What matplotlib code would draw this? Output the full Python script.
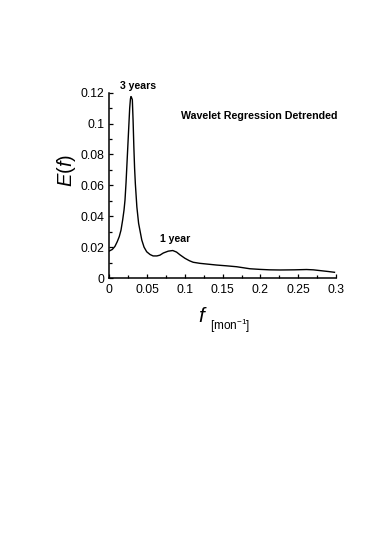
import numpy as np
import matplotlib
matplotlib.use('Agg')
import matplotlib.pyplot as plt
from matplotlib.ticker import MultipleLocator

# spectrum (frequency in mon^-1, energy)
freq = [0.000, 0.004, 0.0075, 0.0105, 0.0132, 0.0155, 0.0177, 0.0195, 0.0208,
        0.0222, 0.0235, 0.025, 0.026, 0.027, 0.028, 0.0287, 0.0295, 0.0305,
        0.0315, 0.0325, 0.0335, 0.0345, 0.0365, 0.0388, 0.043, 0.046, 0.0495,
        0.054, 0.058, 0.063, 0.067, 0.0715, 0.078, 0.084, 0.089, 0.0936, 0.100,
        0.106, 0.111, 0.120, 0.130, 0.142, 0.155, 0.1686, 0.178, 0.186,
        0.199, 0.212, 0.226, 0.245, 0.261, 0.270, 0.279, 0.290, 0.298]
energy = [0.0175, 0.0185, 0.0205, 0.0235, 0.0268, 0.031, 0.0376, 0.044, 0.0505,
          0.062, 0.075, 0.090, 0.100, 0.110, 0.116, 0.1175, 0.1168, 0.1155,
          0.102, 0.085, 0.071, 0.061, 0.046, 0.0354, 0.0246, 0.020, 0.017,
          0.0152, 0.0143, 0.0143, 0.0148, 0.0162, 0.0174, 0.0178, 0.0168, 0.0150,
          0.0128, 0.0112, 0.0102, 0.0095, 0.0090, 0.0084, 0.0079, 0.0073, 0.0066,
          0.0060, 0.0056, 0.0053, 0.0052, 0.0053, 0.0055, 0.0053, 0.0048, 0.0042,
          0.0037]

peak_labels = ['3 years', '1 year']
peak_pos = [(0.038, 0.1243), (0.087, 0.0253)]
title = 'Wavelet Regression Detrended'

plt.rcParams['font.family'] = ['Liberation Sans', 'DejaVu Sans']
plt.rcParams['mathtext.fontset'] = 'custom'
plt.rcParams['mathtext.it'] = 'Liberation Sans:italic'
plt.rcParams['mathtext.rm'] = 'Liberation Sans'

fig = plt.figure(figsize=(3.74, 5.39), dpi=100)
ax = fig.add_axes([0.2922, 0.4842, 0.6062, 0.3438])

ax.plot(freq, energy, color='black', lw=1.0)

ax.set_xlim(0, 0.3)
ax.set_ylim(0, 0.12)
ax.xaxis.set_minor_locator(MultipleLocator(0.025))
ax.yaxis.set_minor_locator(MultipleLocator(0.01))
ax.set_xticks([0, 0.05, 0.1, 0.15, 0.2, 0.25, 0.3])
ax.set_xticklabels(['0', '0.05', '0.1', '0.15', '0.2', '0.25', '0.3'])
ax.set_yticks([0, 0.02, 0.04, 0.06, 0.08, 0.1, 0.12])
ax.set_yticklabels(['0', '0.02', '0.04', '0.06', '0.08', '0.1', '0.12'])

for s in ['top', 'right']:
    ax.spines[s].set_visible(False)
for s in ['left', 'bottom']:
    ax.spines[s].set_linewidth(1.1)
ax.tick_params(which='both', direction='in', width=0.9, labelsize=8.8)
ax.tick_params(which='major', length=3.2)
ax.tick_params(which='minor', length=2.2)
ax.tick_params(axis='x', pad=4)
ax.tick_params(axis='y', pad=3.5)

for lab, (x, y) in zip(peak_labels, peak_pos):
    ax.text(x, y, lab, ha='center', va='center', fontsize=7.6, fontweight='bold')
ax.text(0.66, 0.872, title, transform=ax.transAxes, ha='center', va='center',
        fontsize=7.7, fontweight='bold')

ax.text(-0.19, 0.58, r'$E(f)$', transform=ax.transAxes, rotation=90,
        ha='center', va='center', fontsize=14.5)
ax.text(0.411, -0.208, r'$f$', transform=ax.transAxes, ha='center',
        va='center', fontsize=15)
ax.text(0.445, -0.258, r'[mon$^{\mathregular{-1}}$]', transform=ax.transAxes,
        ha='left', va='center', fontsize=8.5)

fig.savefig('out.png', dpi=100)
